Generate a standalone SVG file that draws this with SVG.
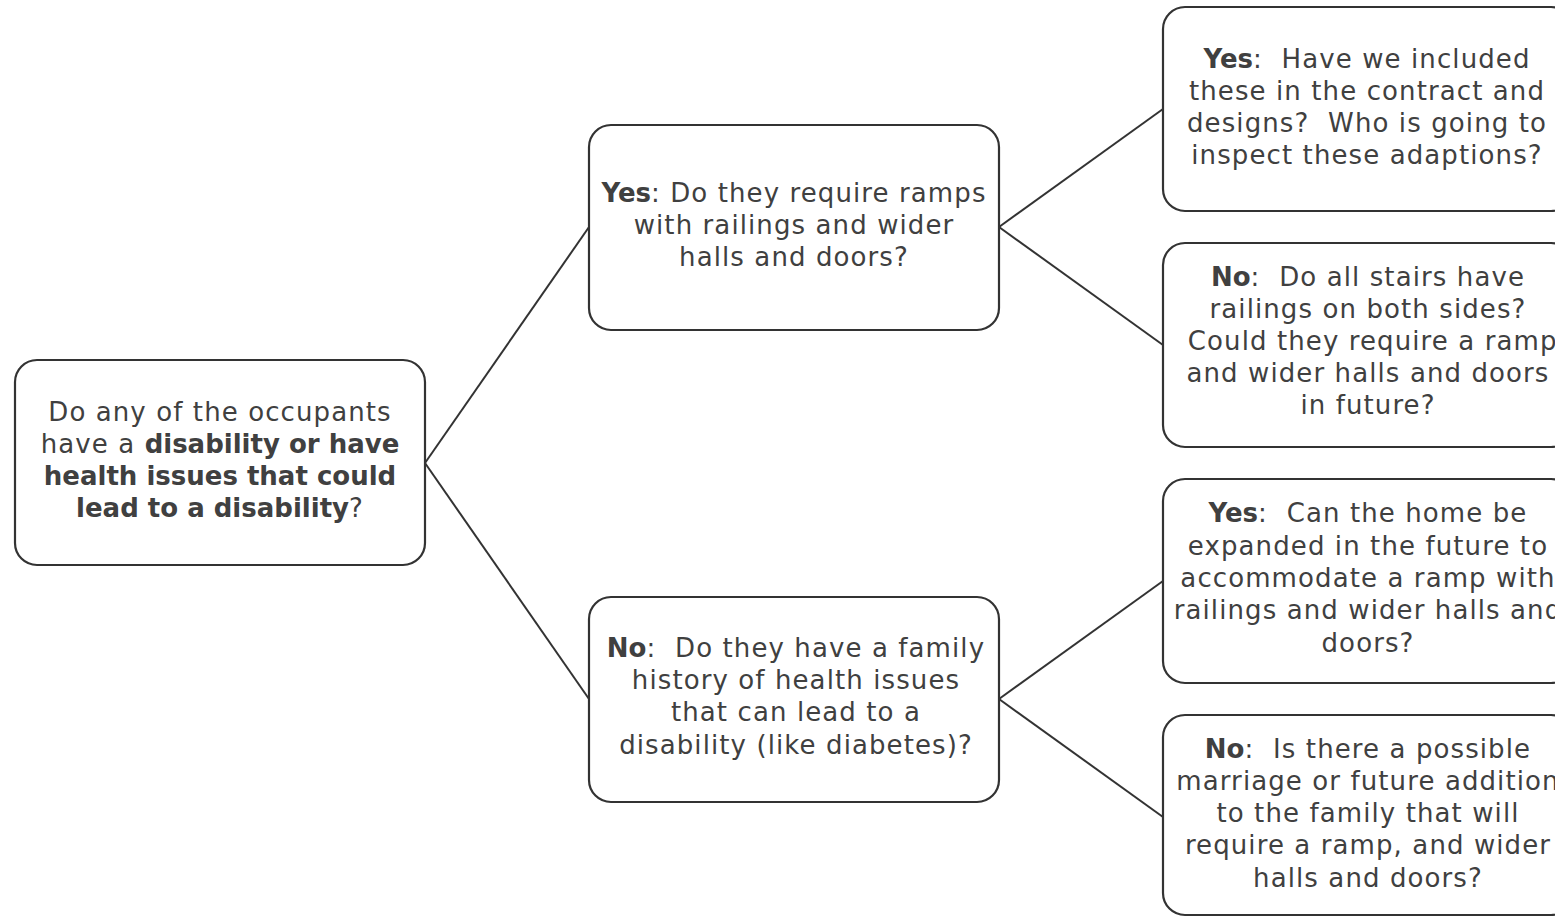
<svg xmlns="http://www.w3.org/2000/svg" width="1555" height="917" viewBox="0 0 1555 917">
<style>
.box{fill:#fff;stroke:#333;stroke-width:2.2}
.t{font-family:"DejaVu Sans","Open Sans",sans-serif;font-size:26px;letter-spacing:1.1px;fill:#404040;text-anchor:middle;white-space:pre}
.b{font-weight:bold;letter-spacing:0}
.c{stroke:#333;stroke-width:2;fill:none}
</style>
<rect width="1555" height="917" fill="#fff"/>
<g id="connectors">
<line class="c" x1="425" y1="463" x2="589" y2="227"/>
<line class="c" x1="425" y1="463" x2="589" y2="699"/>
<line class="c" x1="999" y1="227" x2="1163" y2="109"/>
<line class="c" x1="999" y1="227" x2="1163" y2="345"/>
<line class="c" x1="999" y1="699" x2="1163" y2="581"/>
<line class="c" x1="999" y1="699" x2="1163" y2="817"/>
</g>
<g id="root">
<rect class="box" x="15" y="360" width="410" height="205" rx="22"/>
<text class="t" xml:space="preserve"><tspan x="220" y="421">Do any of the occupants</tspan><tspan x="220" y="453">have a <tspan class="b">disability or have</tspan></tspan><tspan x="220" y="485" class="b">health issues that could</tspan><tspan x="220" y="517"><tspan class="b">lead to a disability</tspan>?</tspan></text>
</g>
<g id="yes1">
<rect class="box" x="589" y="125" width="410" height="205" rx="22"/>
<text class="t" xml:space="preserve"><tspan x="794" y="202"><tspan class="b">Yes</tspan>: Do they require ramps</tspan><tspan x="794" y="234">with railings and wider</tspan><tspan x="794" y="266">halls and doors?</tspan></text>
</g>
<g id="no1">
<rect class="box" x="589" y="597" width="410" height="205" rx="22"/>
<text class="t" xml:space="preserve"><tspan x="796" y="657"><tspan class="b">No</tspan>:  Do they have a family</tspan><tspan x="796" y="689">history of health issues</tspan><tspan x="796" y="721">that can lead to a</tspan><tspan x="796" y="754">disability (like diabetes)?</tspan></text>
</g>
<g id="yes-yes">
<rect class="box" x="1163" y="7" width="410" height="204" rx="22"/>
<text class="t" xml:space="preserve"><tspan x="1367" y="68"><tspan class="b">Yes</tspan>:  Have we included</tspan><tspan x="1367" y="100">these in the contract and</tspan><tspan x="1367" y="132">designs?  Who is going to</tspan><tspan x="1367" y="164">inspect these adaptions?</tspan></text>
</g>
<g id="yes-no">
<rect class="box" x="1163" y="243" width="410" height="204" rx="22"/>
<text class="t" xml:space="preserve"><tspan x="1368" y="286"><tspan class="b">No</tspan>:  Do all stairs have</tspan><tspan x="1368" y="318">railings on both sides?</tspan><tspan x="1368" y="350"> Could they require a ramp</tspan><tspan x="1368" y="382">and wider halls and doors</tspan><tspan x="1368" y="414">in future?</tspan></text>
</g>
<g id="no-yes">
<rect class="box" x="1163" y="479" width="410" height="204" rx="22"/>
<text class="t" xml:space="preserve"><tspan x="1368" y="522"><tspan class="b">Yes</tspan>:  Can the home be</tspan><tspan x="1368" y="555">expanded in the future to</tspan><tspan x="1368" y="587">accommodate a ramp with</tspan><tspan x="1368" y="619">railings and wider halls and</tspan><tspan x="1368" y="652">doors?</tspan></text>
</g>
<g id="no-no">
<rect class="box" x="1163" y="715" width="410" height="200" rx="22"/>
<text class="t" xml:space="preserve"><tspan x="1368" y="758"><tspan class="b">No</tspan>:  Is there a possible</tspan><tspan x="1368" y="790">marriage or future addition</tspan><tspan x="1368" y="822">to the family that will</tspan><tspan x="1368" y="854">require a ramp, and wider</tspan><tspan x="1368" y="887">halls and doors?</tspan></text>
</g>
</svg>
